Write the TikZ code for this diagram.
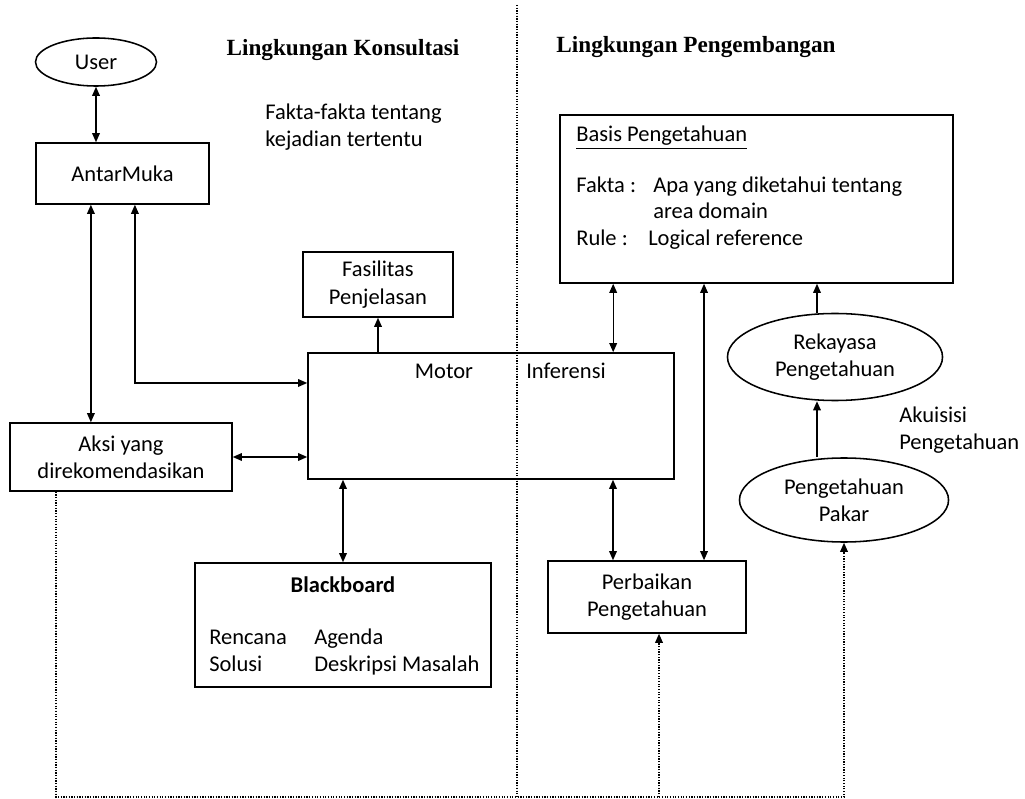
\documentclass[tikz,border=0pt]{standalone}
\usepackage{fontspec}
\setmainfont{Carlito}
\newfontfamily\headfont{Liberation Serif}
\usetikzlibrary{arrows.meta,shapes.geometric}

\tikzset{
  box/.style={rectangle, draw, line width=1.1pt, align=center},
  oval/.style={ellipse, draw, line width=1.1pt, align=center},
  link/.style={line width=0.9pt},
  dotlink/.style={line width=0.9pt, densely dotted},
  heading/.style={font=\headfont\bfseries\fontsize{16.5}{20}\selectfont},
  plain/.style={anchor=west, align=left, inner sep=0pt},
  word/.style={anchor=base west, inner sep=0pt},
}

\begin{document}
\begin{tikzpicture}[x=0.025cm, y=-0.025cm, >={Triangle[length=6.5pt,width=5.5pt]}, font=\fontsize{16}{19.5}\selectfont]
        \useasboundingbox (0,0) rectangle (1025,799);

        % headings
        \node[heading] (konsultasi) at (343,50) {Lingkungan Konsultasi};
        \node[heading] (pengembangan) at (696,47) {Lingkungan Pengembangan};
        \node[plain] (fakta-kejadian) at (265,127) {Fakta-fakta tentang\\kejadian tertentu};

        \coordinate (divider-top) at (517,5);
        \coordinate (divider-bottom) at (517,799);
        \coordinate (bottom-line) at (0,797);

        % lingkungan konsultasi
        \node[oval, minimum width=3.025cm, minimum height=1.2cm] (user) at (96,62) {User};
        \node[box, minimum width=4.325cm, minimum height=1.525cm] (antarmuka) at (122.5,173.5) {AntarMuka};
        \node[box, minimum width=3.75cm, minimum height=1.625cm] (fasilitas) at (378,284.5) {Fasilitas\\Penjelasan};
        \node[box, minimum width=9.15cm, minimum height=3.15cm] (motor) at (491,416) {};
        \node[anchor=base] (motor-label) at (444,379) {Motor};
        \node[anchor=base] (inferensi-label) at (566,379) {Inferensi};
        \node[box, minimum width=5.55cm, minimum height=1.7cm] (aksi) at (121,457) {Aksi yang\\direkomendasikan};
        \node[box, minimum width=7.4cm, minimum height=3.1cm] (blackboard) at (343,625) {};
        \node[anchor=base, font=\fontsize{16}{19.5}\selectfont\bfseries] (blackboard-label) at (343,592) {Blackboard};
        \node[word] (rencana) at (209,644) {Rencana};
        \node[word] (agenda) at (314,644) {Agenda};
        \node[word] (solusi) at (209,671) {Solusi};
        \node[word] (deskripsi) at (314,671) {Deskripsi Masalah};

        % lingkungan pengembangan
        \node[box, minimum width=9.825cm, minimum height=4.2cm] (basis) at (756.5,199) {};
        \node[word] (basis-label) at (576,142) {\underline{Basis Pengetahuan}};
        \node[word] (fakta) at (576,193) {Fakta :};
        \node[word] (fakta-isi) at (653,193) {Apa yang diketahui tentang};
        \node[word] (fakta-isi2) at (653,219) {area domain};
        \node[word] (rule) at (576,246) {Rule :};
        \node[word] (rule-isi) at (648,246) {Logical reference};
        \node[oval, minimum width=5.375cm, minimum height=2.175cm] (rekayasa) at (835,357) {Rekayasa\\Pengetahuan};
        \node[plain] (akuisisi) at (899,430) {Akuisisi\\Pengetahuan};
        \node[oval, minimum width=5.225cm, minimum height=2.1cm] (pakar) at (844,500) {Pengetahuan\\Pakar};
        \node[box, minimum width=4.95cm, minimum height=1.8cm] (perbaikan) at (647,597) {Perbaikan\\Pengetahuan};

        \draw [dotlink] (divider-top) -- (divider-bottom);

        \draw [link, <->] (user.south) -- (user.south |- antarmuka.north);
        \draw [link, <->] ([xshift=-0.79cm]antarmuka.south) -- ([xshift=-0.79cm]antarmuka.south |- aksi.north);
        \draw [link, <->] ([xshift=0.31cm]antarmuka.south) |- ([yshift=0.825cm]motor.west);
        \draw [link, <->] (aksi.east) -- (aksi.east -| motor.west);
        \draw [link, ->] (fasilitas.south |- motor.north) -- (fasilitas.south);
        \draw [link, <->] (blackboard.north |- motor.south) -- (blackboard.north);

        \draw [link, <->] ([xshift=1.35cm]basis.south west) -- ([xshift=1.35cm]basis.south west |- motor.north);
        \draw [link, <->] ([xshift=-0.85cm]perbaikan.north |- motor.south) -- ([xshift=-0.85cm]perbaikan.north);
        \draw [link, <->] ([xshift=1.425cm]perbaikan.north) -- ([xshift=1.425cm]perbaikan.north |- basis.south);
        \draw [link, ->] ([xshift=-0.45cm]rekayasa.north) -- ([xshift=-0.45cm]rekayasa.north |- basis.south);
        \draw [link, ->] ([xshift=-0.675cm]pakar.north) -- ([xshift=-0.675cm]pakar.north |- rekayasa.south);

        \draw [dotlink, ->] ([xshift=-1.625cm]aksi.south) |- (pakar.south |- bottom-line) -- (pakar.south);
        \draw [dotlink, ->] ([xshift=0.3cm]perbaikan.south |- bottom-line) -- ([xshift=0.3cm]perbaikan.south);

      \end{tikzpicture}
\end{document}
